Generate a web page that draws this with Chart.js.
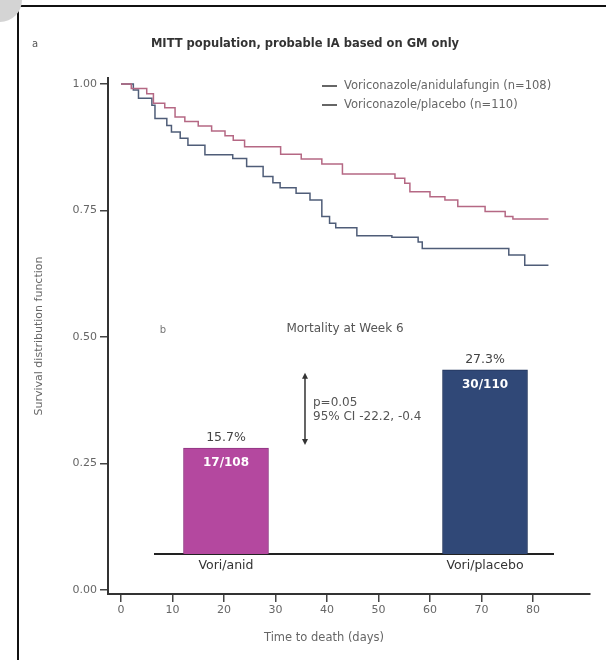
<!DOCTYPE html>
<html lang="en">
<head>
    <meta charset="UTF-8" />
    <title>MITT population, probable IA based on GM only</title>
    <script src="https://cdn.jsdelivr.net/npm/chart.js"></script>
    <style>
        body {
            margin: 0;
            background: #fff;
            overflow: hidden;
            font-family: 'DejaVu Sans', sans-serif;
        }

        .page {
            position: relative;
            width: 606px;
            height: 660px;
        }

        .frame {
            position: absolute;
            left: 17px;
            top: 5px;
            width: 700px;
            height: 700px;
            border-left: 2px solid #111;
            border-top: 2px solid #111;
        }

        .corner {
            position: absolute;
            left: -22px;
            top: -22px;
            width: 44px;
            height: 44px;
            border-radius: 50%;
            background: #d4d4d4;
        }

        #kmChart {
            position: absolute;
            left: 0;
            top: 0;
        }

        #barChart {
            position: absolute;
            left: 140px;
            top: 300px;
        }
    </style>
</head>
<body>

<div class="page">
    <div class="frame"></div>
    <div class="corner"></div>
    <canvas id="kmChart" width="606" height="660"></canvas>
    <canvas id="barChart" width="430" height="290"></canvas>
</div>

<script>
    // Kaplan-Meier curves (days, survival probability)
    const anidDays = [0, 2, 5, 6.3, 8.5, 10.5, 12.4, 15, 17.6, 20.2, 21.8, 24, 31, 35, 39, 43, 53.2, 55.1, 56.1, 60, 62.9, 65.4, 70.7, 74.6, 76.1, 83];
    const anidSurv = [1.000, 0.991, 0.981, 0.962, 0.953, 0.935, 0.926, 0.917, 0.907, 0.898, 0.889, 0.876, 0.861, 0.852, 0.842, 0.822, 0.814, 0.804, 0.787, 0.777, 0.771, 0.758, 0.748, 0.738, 0.733, 0.733];

    const placDays = [0, 2.4, 3.4, 6, 6.6, 8.9, 9.8, 11.5, 13, 16.3, 21.7, 24.4, 27.6, 29.5, 30.9, 34, 36.7, 39, 40.5, 41.7, 45.8, 52.6, 57.7, 58.5, 75.3, 78.4, 83];
    const placSurv = [1.000, 0.988, 0.972, 0.958, 0.932, 0.918, 0.905, 0.893, 0.879, 0.860, 0.853, 0.837, 0.817, 0.805, 0.795, 0.784, 0.771, 0.738, 0.725, 0.716, 0.700, 0.697, 0.688, 0.675, 0.662, 0.642, 0.642];

    const seriesLabels = ['Voriconazole/anidulafungin (n=108)', 'Voriconazole/placebo (n=110)'];
    const xTicks = [0, 10, 20, 30, 40, 50, 60, 70, 80];
    const yTicks = [0, 0.25, 0.5, 0.75, 1];

    // inset: mortality at week 6
    const barLabels = ['Vori/anid', 'Vori/placebo'];
    const barSlots = [1, 2];
    const mortalityPct = [15.7, 27.3];
    const mortalityCounts = ['17/108', '30/110'];

    const FONT = "'DejaVu Sans', sans-serif";
    const pink = '#b56884';
    const blue = '#4f5d78';

    function toPoints(xs, ys) {
        return xs.map((x, i) => ({ x: x, y: ys[i] }));
    }

    const kmText = {
        id: 'kmText',
        afterDraw(chart) {
            const ctx = chart.ctx;
            ctx.save();
            ctx.textBaseline = 'middle';

            ctx.fillStyle = '#555';
            ctx.font = '10px ' + FONT;
            ctx.textAlign = 'left';
            ctx.fillText('a', 32, 44);

            ctx.fillStyle = '#333';
            ctx.font = 'bold 11.5px ' + FONT;
            ctx.textAlign = 'center';
            ctx.fillText('MITT population, probable IA based on GM only', 305, 44);

            // legend
            ctx.font = '11.5px ' + FONT;
            ctx.textAlign = 'left';
            chart.data.datasets.forEach((ds, i) => {
                const y = 86 + i * 19;
                ctx.strokeStyle = '#333';
                ctx.lineWidth = 1.5;
                ctx.beginPath();
                ctx.moveTo(322, y);
                ctx.lineTo(337, y);
                ctx.stroke();
                ctx.fillStyle = '#666';
                ctx.fillText(ds.label, 344, y);
            });

            // x axis title
            ctx.fillStyle = '#666';
            ctx.font = '11.5px ' + FONT;
            ctx.textAlign = 'center';
            ctx.fillText('Time to death (days)', 324, 638);
            ctx.restore();
        }
    };

    new Chart(document.getElementById('kmChart'), {
        type: 'line',
        data: {
            datasets: [
                {
                    label: seriesLabels[0],
                    data: toPoints(anidDays, anidSurv),
                    borderColor: pink,
                    borderWidth: 1.5,
                    stepped: true,
                    pointRadius: 0,
                    fill: false
                },
                {
                    label: seriesLabels[1],
                    data: toPoints(placDays, placSurv),
                    borderColor: blue,
                    borderWidth: 1.5,
                    stepped: true,
                    pointRadius: 0,
                    fill: false
                }
            ]
        },
        options: {
            responsive: false,
            animation: false,
            layout: { padding: { top: 78, right: 16, left: 0, bottom: 0 } },
            plugins: {
                legend: { display: false },
                tooltip: { enabled: false }
            },
            scales: {
                x: {
                    type: 'linear',
                    min: -2.52,
                    max: 91.07,
                    afterBuildTicks: s => { s.ticks = xTicks.map(v => ({ value: v })); },
                    afterFit: s => { s.height = 66; },
                    grid: { drawOnChartArea: false, tickLength: 8, color: '#444', lineWidth: 1.5 },
                    border: { color: '#333', width: 2 },
                    ticks: { color: '#666', font: { size: 11, family: FONT }, padding: 2, maxRotation: 0 }
                },
                y: {
                    min: -0.0079,
                    max: 1.0119,
                    afterBuildTicks: s => { s.ticks = yTicks.map(v => ({ value: v })); },
                    afterFit: s => { s.width = 108; },
                    grid: { drawOnChartArea: false, tickLength: 8, color: '#444', lineWidth: 1.5 },
                    border: { color: '#333', width: 2 },
                    ticks: {
                        color: '#666',
                        font: { size: 11, family: FONT },
                        padding: 3,
                        callback: v => v.toFixed(2)
                    },
                    title: {
                        display: true,
                        text: 'Survival distribution function',
                        color: '#666',
                        font: { size: 11, family: FONT },
                        padding: { top: 33, bottom: 0 }
                    }
                }
            }
        },
        plugins: [kmText]
    });

    const barText = {
        id: 'barText',
        afterDatasetsDraw(chart) {
            const ctx = chart.ctx;
            const meta = chart.getDatasetMeta(0);
            const xs = chart.scales.x;
            const ys = chart.scales.y;
            ctx.save();
            ctx.textBaseline = 'middle';
            ctx.textAlign = 'center';

            ctx.fillStyle = '#777';
            ctx.font = '10px ' + FONT;
            ctx.fillText('b', 23, 30);
            ctx.fillStyle = '#555';
            ctx.font = '12px ' + FONT;
            ctx.fillText('Mortality at Week 6', 205, 29);

            meta.data.forEach((bar, i) => {
                ctx.fillStyle = '#444';
                ctx.font = '12.5px ' + FONT;
                ctx.fillText(mortalityPct[i] + '%', bar.x, bar.y - 10);
                ctx.fillStyle = '#fff';
                ctx.font = 'bold 12px ' + FONT;
                ctx.fillText(mortalityCounts[i], bar.x, bar.y + 15);
            });

            // difference arrow between the two bar heights
            const ax = xs.getPixelForValue(1.305);
            const y1 = ys.getPixelForValue(mortalityPct[1]) + 3;
            const y2 = ys.getPixelForValue(mortalityPct[0]) - 3;
            ctx.strokeStyle = '#333';
            ctx.fillStyle = '#333';
            ctx.lineWidth = 1.5;
            ctx.beginPath();
            ctx.moveTo(ax, y1 + 4);
            ctx.lineTo(ax, y2 - 4);
            ctx.stroke();
            [[y1, 1], [y2, -1]].forEach(([y, d]) => {
                ctx.beginPath();
                ctx.moveTo(ax, y);
                ctx.lineTo(ax - 3, y + 6 * d);
                ctx.lineTo(ax + 3, y + 6 * d);
                ctx.closePath();
                ctx.fill();
            });

            ctx.textAlign = 'left';
            ctx.fillStyle = '#555';
            ctx.font = '12px ' + FONT;
            const mid = (y1 + y2) / 2;
            ctx.fillText('p=0.05', ax + 8, mid - 6.5);
            ctx.fillText('95% CI -22.2, -0.4', ax + 8, mid + 7.5);
            ctx.restore();
        }
    };

    new Chart(document.getElementById('barChart'), {
        type: 'bar',
        data: {
            datasets: [{
                data: toPoints(barSlots, mortalityPct),
                backgroundColor: ['#b4489f', '#304877'],
                borderColor: ['#8e3580', '#22355c'],
                borderWidth: 1,
                barThickness: 85
            }]
        },
        options: {
            responsive: false,
            animation: false,
            layout: { padding: { left: 15, right: 17, top: 11, bottom: 0 } },
            plugins: {
                legend: { display: false },
                tooltip: { enabled: false }
            },
            scales: {
                x: {
                    type: 'linear',
                    offset: false,
                    min: 0.7259,
                    max: 2.2625,
                    afterBuildTicks: s => { s.ticks = barSlots.map(v => ({ value: v })); },
                    afterFit: s => { s.height = 36; },
                    grid: { display: false, drawTicks: false, offset: false },
                    border: { color: '#222', width: 2 },
                    ticks: {
                        color: '#333',
                        font: { size: 12.5, family: FONT },
                        padding: 4,
                        callback: v => barLabels[barSlots.indexOf(v)]
                    }
                },
                y: { display: false, min: 0, max: 36 }
            }
        },
        plugins: [barText]
    });
</script>

</body>
</html>
